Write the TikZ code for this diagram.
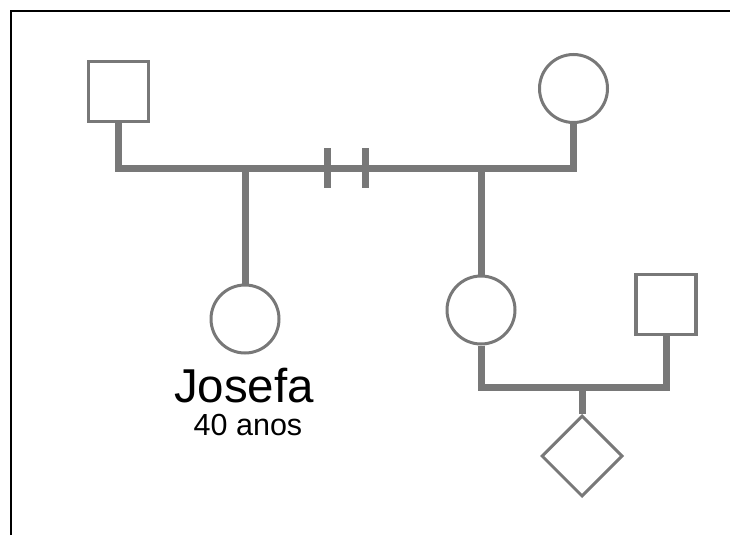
\documentclass[tikz,border=0pt]{standalone}
\usepackage{fontspec}
\setmainfont{Liberation Sans}
\usetikzlibrary{shapes.geometric}
\definecolor{kin}{RGB}{120,120,120}
\tikzset{
  male/.style={draw=kin, line width=3.5pt, fill=white, rectangle, minimum size=60pt, inner sep=0pt},
  female/.style={draw=kin, line width=3pt, fill=white, circle, minimum size=68pt, inner sep=0pt},
  unknown/.style={draw=kin, line width=3pt, fill=white, diamond, minimum width=81pt, minimum height=81pt, inner sep=0pt},
  tie/.style={draw=kin, line width=7pt, line join=miter},
  breakmark/.style={fill=kin, rectangle, minimum width=7pt, minimum height=40pt, inner sep=0pt},
}
\begin{document}
\begin{tikzpicture}[x=1pt, y=-1pt]
  \useasboundingbox (0,0) rectangle (730,535);
  % frame
  \draw[black, line width=2pt] (11,535) -- (11,11) -- (730,11);

  % people
  \node[male]    (grandpa) at (118.5,91.5) {};
  \node[female]  (grandma) at (573.5,88.5) {};
  \node[female]  (josefa)  at (245,319) {};
  \node[female]  (sister)  at (481,310) {};
  \node[male]    (partner) at (666,304.5) {};
  \node[unknown] (child)   at (582,456) {};

  % junction points
  \coordinate (j1) at (245,168);
  \coordinate (j2) at (481,168);
  \coordinate (j3) at (582,387);

  % couple line and descent lines
  \draw[tie] (grandpa.south) |- (j1) -- (j2) -| (grandma.south);
  \draw[tie] (j1) -- (josefa.north);
  \draw[tie] (j2) -- (sister.north);
  \draw[tie] (sister.south) |- (j3) -| (partner.south);
  \draw[tie] (j3) -- (child.north);

  % separation marks
  \node[breakmark] (sep1) at (327,168) {};
  \node[breakmark] (sep2) at (365,168) {};

  % labels
  \node[anchor=base, font=\fontsize{47.5}{50}\selectfont, inner sep=0pt] (name) at (244,402) {Josefa};
  \node[anchor=base, font=\fontsize{30.5}{32}\selectfont, inner sep=0pt] (age) at (248,435) {40 anos};
\end{tikzpicture}
\end{document}
